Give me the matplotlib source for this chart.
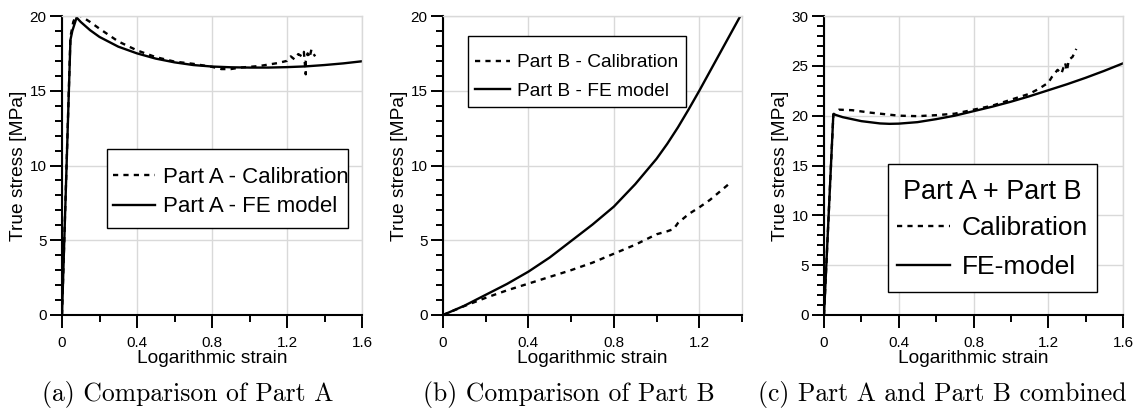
import matplotlib
matplotlib.use("Agg")
import matplotlib.pyplot as plt
from matplotlib.ticker import MultipleLocator
from matplotlib.patches import Rectangle

plt.rcParams['font.family'] = ['Liberation Sans', 'DejaVu Sans']

# ---------------- data ----------------
# Panel (a): Part A
a_cal_x = [0.0, 0.045, 0.06, 0.075, 0.1, 0.15, 0.2, 0.3, 0.4, 0.5, 0.6, 0.7, 0.8, 0.85, 0.9, 0.95,
           1.0, 1.05, 1.1, 1.15, 1.2, 1.22, 1.24, 1.26, 1.28, 1.29, 1.3, 1.3, 1.31, 1.32, 1.33, 1.34, 1.35]
a_cal_y = [0.0, 18.6, 19.6, 20.05, 20.0, 19.6, 19.15, 18.3, 17.7, 17.25, 16.95, 16.8, 16.6, 16.45, 16.45, 16.55,
           16.6, 16.65, 16.75, 16.85, 17.0, 17.3, 17.1, 17.45, 17.3, 17.6, 16.1, 17.0, 17.5, 17.2, 17.75, 17.5, 17.3]
a_fe_x = [0.0, 0.045, 0.055, 0.078, 0.1, 0.15, 0.2, 0.3, 0.4, 0.5, 0.6, 0.7, 0.8, 0.9, 1.0, 1.1, 1.2,
          1.3, 1.4, 1.5, 1.62]
a_fe_y = [0.0, 18.4, 19.0, 19.9, 19.6, 19.05, 18.6, 17.95, 17.5, 17.15, 16.9, 16.72, 16.62, 16.57, 16.55, 16.55, 16.58,
          16.63, 16.72, 16.83, 17.0]

# Panel (b): Part B
b_cal_x = [0.0, 0.1, 0.2, 0.3, 0.4, 0.5, 0.6, 0.7, 0.8, 0.9, 0.95, 1.0, 1.05, 1.08, 1.1, 1.15, 1.2, 1.25, 1.3, 1.35]
b_cal_y = [0.0, 0.6, 1.15, 1.65, 2.1, 2.55, 3.0, 3.5, 4.1, 4.7, 5.05, 5.4, 5.6, 5.75, 6.15, 6.75, 7.2, 7.7, 8.3, 8.9]
b_fe_x = [0.0, 0.1, 0.2, 0.3, 0.4, 0.5, 0.6, 0.7, 0.8, 0.9, 1.0, 1.05, 1.1, 1.15, 1.2, 1.25, 1.3, 1.35, 1.4]
b_fe_y = [0.0, 0.62, 1.35, 2.08, 2.9, 3.85, 4.95, 6.05, 7.25, 8.75, 10.45, 11.45, 12.55, 13.75, 15.0, 16.3, 17.6,
          18.9, 20.2]

# Panel (c): Part A + Part B
c_cal_x = [0.0, 0.05, 0.065, 0.08, 0.15, 0.25, 0.4, 0.5, 0.6, 0.7, 0.8, 0.9, 0.95, 1.0, 1.05, 1.1, 1.15,
           1.2, 1.22, 1.25, 1.27, 1.29, 1.3, 1.31, 1.33, 1.35]
c_cal_y = [0.0, 20.1, 20.4, 20.6, 20.55, 20.3, 20.0, 19.95, 20.05, 20.2, 20.6, 21.0, 21.3, 21.6, 21.9, 22.2, 22.7,
           23.3, 23.9, 24.6, 24.2, 25.3, 24.5, 25.6, 25.9, 26.7]
c_fe_x = [0.0, 0.05, 0.1, 0.2, 0.3, 0.35, 0.4, 0.5, 0.6, 0.7, 0.8, 0.9, 1.0, 1.1, 1.2, 1.3, 1.4, 1.5, 1.62]
c_fe_y = [0.0, 20.15, 19.85, 19.45, 19.22, 19.18, 19.2, 19.35, 19.65, 20.0, 20.45, 20.9, 21.4, 21.95, 22.55, 23.15,
          23.8, 24.5, 25.4]

x_ticks_a = [0, 0.4, 0.8, 1.2, 1.6]
x_ticks_b = [0, 0.4, 0.8, 1.2]
x_ticks_c = [0, 0.4, 0.8, 1.2, 1.6]
x_ticklabels_a = ["0", "0.4", "0.8", "1.2", "1.6"]
x_ticklabels_b = ["0", "0.4", "0.8", "1.2"]
x_ticklabels_c = ["0", "0.4", "0.8", "1.2", "1.6"]

legend_title_c = "Part A + Part B"
captions = ["(a) Comparison of Part A", "(b) Comparison of Part B", "(c) Part A and Part B combined"]

# ---------------- figure ----------------
W, H = 1142, 409
fig = plt.figure(figsize=(W / 100, H / 100), dpi=100)

def px_axes(left, right, top, bottom):
    return fig.add_axes([left / W, 1 - bottom / H, (right - left) / W, (bottom - top) / H])

GRID = '#d9d9d9'
TICK_FS = 11
LABEL_FS = 13.8
DASH = (0, (2.2, 2.2))
LW = 1.7

def style(ax, xlim, ylim, xticks, xlabels, ymajor):
    ax.set_xlim(*xlim)
    ax.set_ylim(*ylim)
    ax.set_xticks(xticks)
    ax.set_xticklabels(xlabels)
    ax.xaxis.set_minor_locator(MultipleLocator(0.2))
    ax.yaxis.set_major_locator(MultipleLocator(ymajor))
    ax.yaxis.set_minor_locator(MultipleLocator(1))
    ax.grid(True, which='major', color=GRID, linewidth=1.0)
    ax.set_axisbelow(True)
    for s in ['top', 'right']:
        ax.spines[s].set_color(GRID)
        ax.spines[s].set_linewidth(1.0)
    for s in ['left', 'bottom']:
        ax.spines[s].set_linewidth(1.5)
    ax.tick_params(which='major', direction='out', length=9, width=1.4, labelsize=TICK_FS, pad=2)
    ax.tick_params(which='minor', direction='out', length=5, width=1.4)
    ax.tick_params(axis='x', which='major', pad=6)
    ax.set_xlabel('Logarithmic strain', fontsize=LABEL_FS, labelpad=0)
    ax.set_ylabel('True stress [MPa]', fontsize=LABEL_FS, labelpad=2)

def box(ax, x0, y0, x1, y1):
    ax.add_patch(Rectangle((x0, y0), x1 - x0, y1 - y0, transform=ax.transAxes, facecolor='white',
                           edgecolor='black', linewidth=1.0, zorder=4.5, clip_on=False))

LEG_KW = dict(frameon=False, borderaxespad=0, borderpad=0)

# (a)
ax1 = px_axes(62, 362, 16, 315)
ax1.plot(a_cal_x, a_cal_y, color='black', lw=LW, ls=DASH, label='Part A - Calibration')
ax1.plot(a_fe_x, a_fe_y, color='black', lw=LW, label='Part A - FE model')
style(ax1, (0, 1.6), (0, 20), x_ticks_a, x_ticklabels_a, 5)
box(ax1, 0.15, 0.291, 0.953, 0.555)
ax1.legend(loc='upper left', bbox_to_anchor=(0.17, 0.495), fontsize=16,
           handlelength=1.9, handletextpad=0.36, labelspacing=0.38, **LEG_KW)

# (b)
ax2 = px_axes(443, 742, 16, 315)
ax2.plot(b_cal_x, b_cal_y, color='black', lw=LW, ls=DASH, label='Part B - Calibration')
ax2.plot(b_fe_x, b_fe_y, color='black', lw=LW, label='Part B - FE model')
style(ax2, (0, 1.4), (0, 20), x_ticks_b, x_ticklabels_b, 5)
box(ax2, 0.084, 0.696, 0.813, 0.933)
ax2.legend(loc='upper left', bbox_to_anchor=(0.107, 0.873), fontsize=13.8,
           handlelength=1.82, handletextpad=0.36, labelspacing=0.57, **LEG_KW)

# (c)
ax3 = px_axes(824, 1123, 16, 315)
ax3.plot(c_cal_x, c_cal_y, color='black', lw=LW, ls=DASH, label='Calibration')
ax3.plot(c_fe_x, c_fe_y, color='black', lw=LW, label='FE-model')
style(ax3, (0, 1.6), (0, 30), x_ticks_c, x_ticklabels_c, 5)
box(ax3, 0.214, 0.077, 0.913, 0.505)
ax3.text(0.5635, 0.411, legend_title_c, transform=ax3.transAxes, ha='center', va='center',
         fontsize=19.5, zorder=6)
ax3.legend(loc='upper left', bbox_to_anchor=(0.244, 0.331), fontsize=19,
           handlelength=2.0, handletextpad=0.45, labelspacing=0.57, **LEG_KW)

# captions
cap_x = [188, 569, 942]
for cx, txt in zip(cap_x, captions):
    fig.text(cx / W, 1 - 395 / H, txt, ha='center', va='center', fontsize=18.5,
             family=['cmr10', 'DejaVu Serif'])

fig.savefig('out.png', dpi=100)
